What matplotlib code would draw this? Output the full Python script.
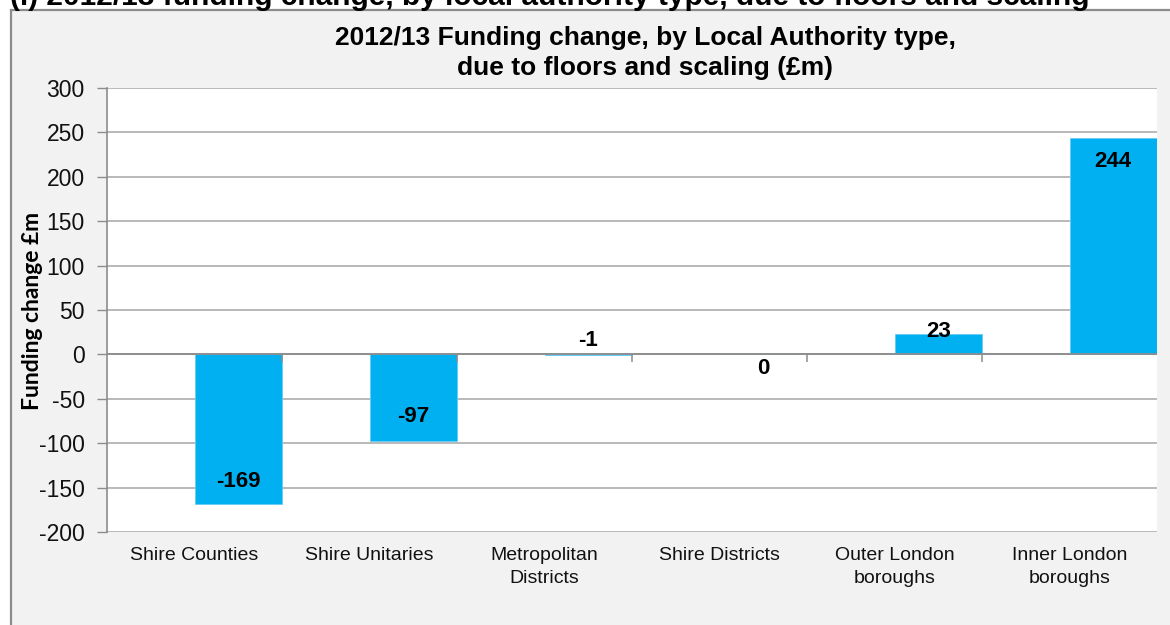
import matplotlib
matplotlib.use("Agg")
import matplotlib.pyplot as plt
from matplotlib.patches import Rectangle

categories = ["Shire Counties", "Shire Unitaries", "Metropolitan\nDistricts",
              "Shire Districts", "Outer London\nboroughs", "Inner London\nboroughs"]
values = [-169, -97, -1, 0, 23, 244]
labels = ["-169", "-97", "-1", "0", "23", "244"]
yticks = [-200, -150, -100, -50, 0, 50, 100, 150, 200, 250, 300]

# label vertical offsets in pixels from the bar end (styling)
label_dy_px = [23, 24, 15, -14, 2, -24]

W, H = 1170, 625
fig = plt.figure(figsize=(W / 100, H / 100), dpi=100)
fig.patch.set_facecolor("white")

# grey chart panel
panel = Rectangle((11 / W, -0.01), 1.0, 1 - 9.5 / H + 0.01, transform=fig.transFigure,
                  facecolor="#f2f2f2", edgecolor="#8c8c8c", lw=1.6, zorder=-10)
fig.patches.append(panel)

# partially cropped heading above the panel
fig.text(10 / W, 1 - 5 / H, "(i) 2012/13 funding change, by local authority type, due to floors and scaling",
         ha="left", va="baseline", fontsize=21.5, fontweight="bold",
         family="Liberation Sans", color="black")

ax = fig.add_axes([107 / W, (H - 532) / H, 1050 / W, 444 / H])
ax.set_zorder(1)
ax.set_facecolor("white")

x = list(range(len(categories)))
ax.bar(x, values, width=0.5, align="edge", color="#00b0f0",
       edgecolor="#66ccf5", linewidth=0.6, zorder=3)

ax.set_xlim(-0.5, len(categories) - 0.5)
ax.set_ylim(-200, 300)
ax.set_yticks(yticks)
ax.set_yticklabels([str(t) for t in yticks], fontsize=16.5, family="Liberation Sans", color="#111111")
ax.tick_params(axis="y", length=7, width=1, color="#8c8c8c", pad=9)

ax.set_xticks(x)
ax.set_xticklabels(categories, fontsize=14, family="Liberation Sans", color="#111111",
                   linespacing=1.45)
ax.tick_params(axis="x", length=0, pad=11)

for s in ["top", "right", "bottom"]:
    ax.spines[s].set_visible(False)
ax.spines["left"].set_color("#8c8c8c")
ax.spines["left"].set_linewidth(1.2)

for t in yticks:
    ax.axhline(t, color="#a6a6a6", lw=1.1, zorder=1)
ax.axhline(0, color="#8c8c8c", lw=1.3, zorder=4)
# category boundary tick marks on the zero axis
ax.vlines([i + 0.5 for i in x[:-1]], 0, -8, color="#8c8c8c", lw=1.1, zorder=4)

for i, v, lab, dy in zip(x, values, labels, label_dy_px):
    ax.annotate(lab, xy=(i + 0.25, v), xytext=(0, dy * 0.72), textcoords="offset points",
                ha="center", va="center", fontsize=16, fontweight="bold",
                family="Liberation Sans", color="black", zorder=5)

fig.text(645 / W, 1 - 53 / H,
         "2012/13 Funding change, by Local Authority type,\ndue to floors and scaling (\u00a3m)",
         ha="center", va="center", fontsize=19, fontweight="bold",
         family="Liberation Sans", color="black", linespacing=1.3)

fig.text(33 / W, 1 - 311 / H, "Funding change \u00a3m", rotation=90, ha="center", va="center",
         fontsize=16.5, fontweight="bold", family=["Lato", "DejaVu Sans"], color="black")

fig.savefig("out.png", dpi=100, facecolor=fig.get_facecolor())
